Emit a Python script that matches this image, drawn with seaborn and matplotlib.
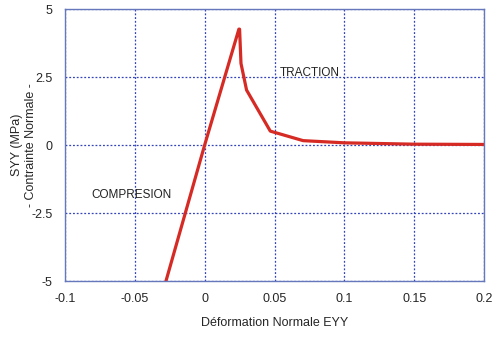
import matplotlib
matplotlib.use("Agg")
import matplotlib.pyplot as plt
import seaborn as sns
import pandas as pd

strain = [-0.0277, 0.0, 0.0245, 0.0250, 0.0260, 0.0300, 0.0470, 0.0705, 0.1000, 0.1500, 0.2000]
stress = [-5.0, 0.0, 4.26, 4.26, 3.0, 2.02, 0.51, 0.16, 0.08, 0.03, 0.02]
x_ticks = [-0.1, -0.05, 0, 0.05, 0.1, 0.15, 0.2]
x_labels = ["-0.1", "-0.05", "0", "0.05", "0.1", "0.15", "0.2"]
y_ticks = [-5, -2.5, 0, 2.5, 5]
y_labels = ["-5", "-2.5", "0", "2.5", "5"]

df = pd.DataFrame({"strain": strain, "stress": stress})

sns.set_style("white")
plt.rcParams["font.family"] = ["Liberation Sans", "DejaVu Sans"]

fig = plt.figure(figsize=(4.98, 3.38), dpi=100)
ax = fig.add_axes([65/498, 1 - 281/338, 419/498, 272/338])

sns.lineplot(data=df, x="strain", y="stress", ax=ax, color="#d62a24",
             linewidth=2.3, sort=False, estimator=None)

ax.set_xlim(-0.1, 0.2)
ax.set_ylim(-5, 5)
ax.set_xticks(x_ticks)
ax.set_xticklabels(x_labels, fontsize=9)
ax.set_yticks(y_ticks)
ax.set_yticklabels(y_labels, fontsize=9)
ax.tick_params(axis="both", length=3, color="#5566bb", direction="in", pad=9)
ax.grid(True, color="#3344bb", linestyle=(0, (1.5, 1.5)), linewidth=0.9)
for s in ax.spines.values():
    s.set_color("#6677bb")
    s.set_linewidth(1.0)

ax.set_xlabel("Déformation Normale EYY", fontsize=9, labelpad=8)
ax.set_ylabel("SYY (MPa)\n- Contrainte Normale -", fontsize=9, linespacing=1.15)
ax.yaxis.set_label_coords(-0.068, 0.5)

ax.text(0.054, 2.65, "TRACTION", fontsize=8.5, color="#222222", va="center")
ax.text(-0.081, -1.85, "COMPRESION", fontsize=8.5, color="#222222", va="center")

fig.savefig("out.png", dpi=100)
